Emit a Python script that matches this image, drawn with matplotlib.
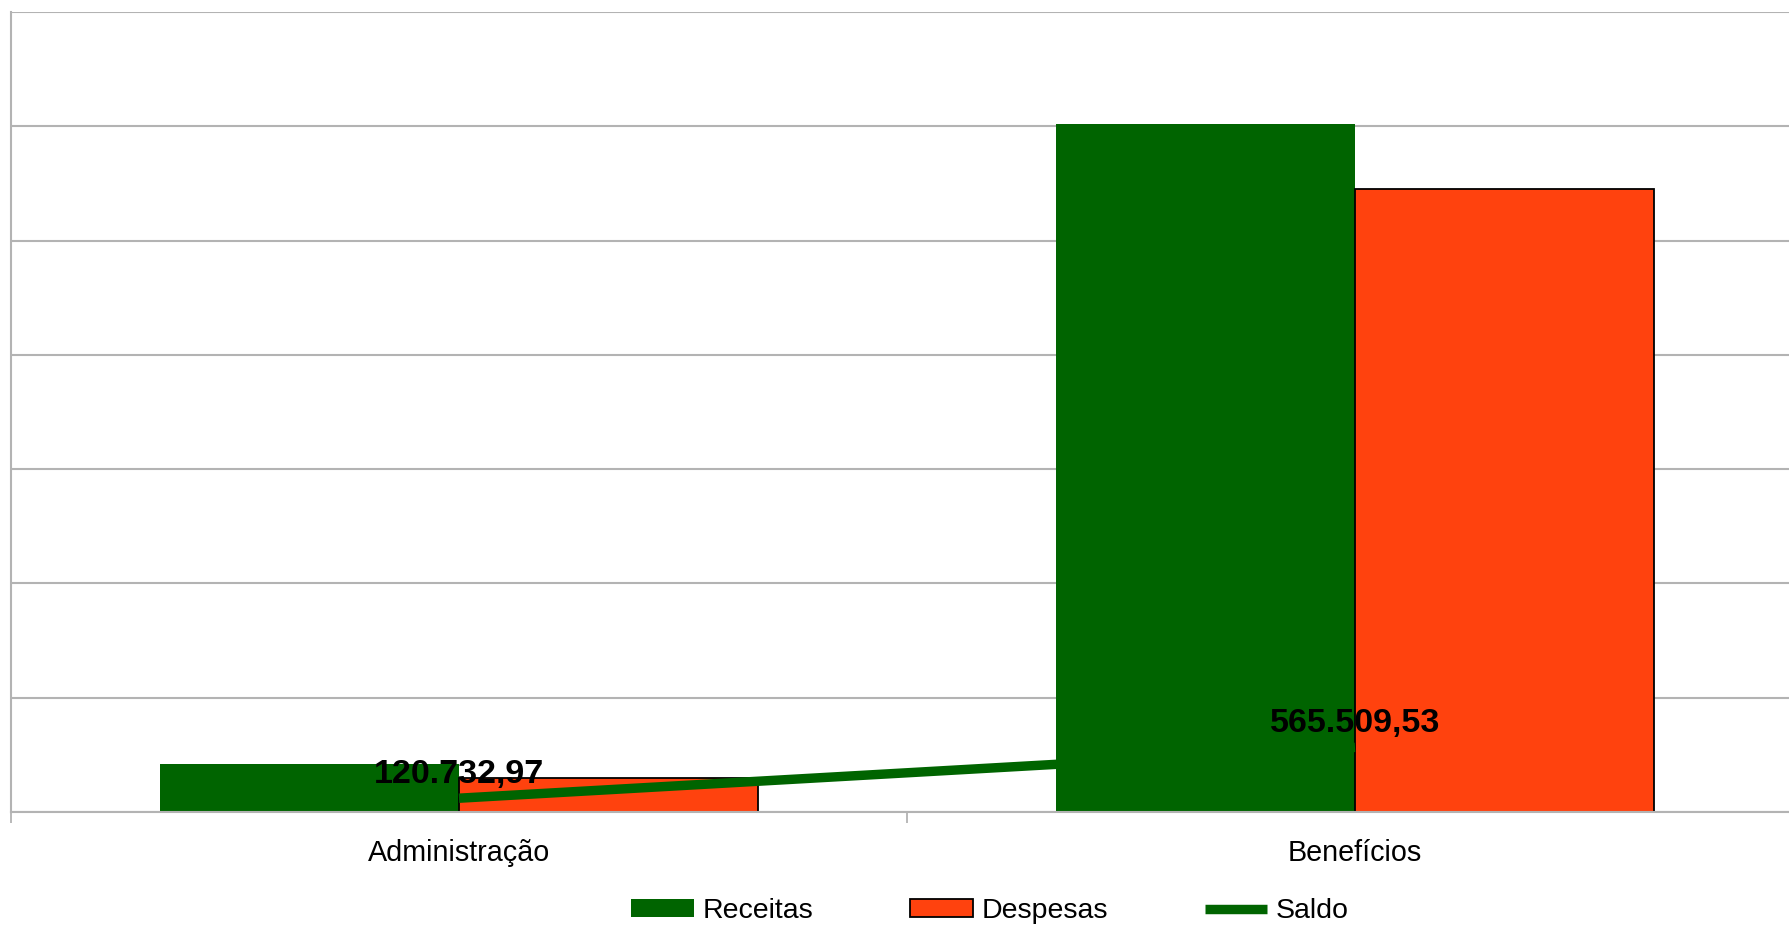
import matplotlib
matplotlib.use("Agg")
import matplotlib.pyplot as plt
import numpy as np

plt.rcParams['font.family'] = ['Liberation Sans', 'DejaVu Sans']

categories = ["Administração", "Benefícios"]
receitas = [420000.0, 6020000.0]
despesas = [299267.03, 5454490.47]
saldo = [120732.97, 565509.53]
saldo_labels = ["120.732,97", "565.509,53"]
series_names = ["Receitas", "Despesas", "Saldo"]

GREEN = "#006400"
ORANGE = "#ff420e"
GRID = "#b3b3b3"

W, H = 1789, 925
fig = plt.figure(figsize=(W / 100, H / 100), dpi=100)
ax = fig.add_axes([11 / W, 1 - 812 / H, (1803 - 11) / W, (812 - 12) / H])

x = np.arange(len(categories))
bw = 1 / 3
b1 = ax.bar(x - bw / 2, receitas, width=bw, color=GREEN, edgecolor="none", zorder=2, label=series_names[0])
b2 = ax.bar(x + bw / 2, despesas, width=bw, color=ORANGE, edgecolor="black", linewidth=1.3, zorder=2, label=series_names[1])
ln, = ax.plot(x, saldo, color=GREEN, linewidth=6.8, zorder=3, solid_capstyle="butt", label=series_names[2])

for xi, yi, lab in zip(x, saldo, saldo_labels):
    ax.annotate(lab, (xi, yi), xytext=(0, 17), textcoords="offset points",
                ha="center", va="center", fontsize=24.5, fontweight="bold", color="black", zorder=4)

ax.set_xlim(-0.5, 1.5)
ax.set_ylim(0, 7000000)
ax.set_yticks(np.arange(0, 7000001, 1000000))
ax.yaxis.grid(True, color=GRID, linewidth=1.5, zorder=0)
ax.set_axisbelow(True)
ax.tick_params(axis="y", left=False, labelleft=False)

ax.set_xticks(x)
ax.set_xticklabels(categories, fontsize=20.7, color="black")
ax.tick_params(axis="x", which="major", length=0, pad=19.5)
ax.set_xticks([-0.5, 0.5, 1.5], minor=True)
ax.tick_params(axis="x", which="minor", length=8, width=1.3, color=GRID, direction="out")

for s in ["top", "right"]:
    ax.spines[s].set_visible(False)
for s in ["left", "bottom"]:
    ax.spines[s].set_color(GRID)
    ax.spines[s].set_linewidth(1.5)

leg = fig.legend(handles=[b1, b2, ln], labels=series_names, ncol=3, loc="center",
                 bbox_to_anchor=(990 / W, 1 - 911 / H), frameon=False, fontsize=20.5,
                 handlelength=2.2, handleheight=0.55, handletextpad=0.3,
                 columnspacing=3.4, borderpad=0)

fig.savefig("out.png", dpi=100, facecolor="white")
